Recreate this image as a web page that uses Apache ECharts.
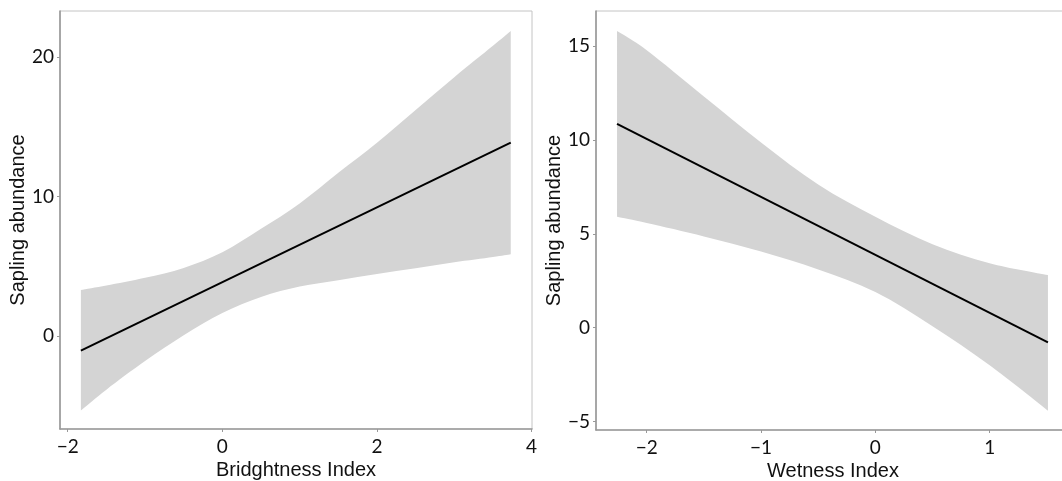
<!DOCTYPE html>
<html>
<head>
<meta charset="utf-8">
<script src="https://cdn.jsdelivr.net/npm/echarts@6/dist/echarts.min.js"></script>
<style>
html,body{margin:0;padding:0;background:#fff;}
#chart{width:1062px;height:481px;}
</style>
</head>
<body>
<div id="chart"></div>
<script>
// ---- Left panel: Brightness ----
const brightX     = [-1.83, -1.5, -1.0, -0.5, 0, 0.5, 1.0, 1.5, 2.0, 2.5, 3.0, 3.5, 3.73];
const brightUpper = [3.30, 3.62, 4.17, 4.88, 6.0, 7.68, 9.5, 11.7, 13.86, 16.2, 18.55, 20.8, 21.86];
const brightLower = [-5.35, -3.85, -1.8, 0.05, 1.65, 2.8, 3.55, 4.0, 4.45, 4.85, 5.28, 5.66, 5.86];
const brightFitX  = [-1.83, 3.73];
const brightFitY  = [-1.05, 13.86];
const brightXTicks = [-2, 0, 2, 4];
const brightYTicks = [0, 10, 20];

// ---- Right panel: Wetness ----
const wetX     = [-2.26, -2.0, -1.5, -1.0, -0.5, 0, 0.5, 1.0, 1.51];
const wetUpper = [15.78, 14.76, 12.3, 9.86, 7.62, 5.9, 4.44, 3.43, 2.80];
const wetLower = [5.90, 5.57, 4.86, 4.05, 3.1, 1.9, 0.08, -2.0, -4.41];
const wetFitX  = [-2.26, 1.51];
const wetFitY  = [10.84, -0.78];
const wetXTicks = [-2, -1, 0, 1];
const wetYTicks = [-5, 0, 5, 10, 15];

const xTitleLeft = 'Bridghtness Index';
const xTitleRight = 'Wetness Index';
const yTitle = 'Sapling abundance';

const fmt = v => (v < 0 ? '\u2212' + Math.abs(v) : String(v));

// smooth closed band path through pixel points (Catmull-Rom -> cubic Bezier)
function curveSeg(p) {
  let d = '';
  for (let i = 0; i < p.length - 1; i++) {
    const p0 = p[Math.max(i - 1, 0)], p1 = p[i], p2 = p[i + 1], p3 = p[Math.min(i + 2, p.length - 1)];
    const c1 = [p1[0] + (p2[0] - p0[0]) / 6, p1[1] + (p2[1] - p0[1]) / 6];
    const c2 = [p2[0] - (p3[0] - p1[0]) / 6, p2[1] - (p3[1] - p1[1]) / 6];
    d += ' C' + c1[0] + ',' + c1[1] + ' ' + c2[0] + ',' + c2[1] + ' ' + p2[0] + ',' + p2[1];
  }
  return d;
}
function bandRender(xs, up, lo) {
  return function (params, api) {
    if (params.dataIndex !== 0) return;
    const u = xs.map((x, i) => api.coord([x, up[i]]));
    const l = xs.map((x, i) => api.coord([x, lo[i]])).reverse();
    let d = 'M' + u[0][0] + ',' + u[0][1] + curveSeg(u);
    d += ' L' + l[0][0] + ',' + l[0][1] + curveSeg(l) + ' Z';
    return { type: 'path', shape: { pathData: d }, style: { fill: '#d4d4d4', stroke: null } };
  };
}

const axisLineStyle = { show: true, onZero: false, lineStyle: { color: '#999', width: 1.6 } };
const tickFont = { color: '#111', fontSize: 19, fontFamily: 'Lato' };
const nameFont = { color: '#111', fontSize: 20, fontFamily: 'Liberation Sans' };

function xAxis(idx, min, max, ticks, name) {
  return {
    type: 'value', gridIndex: idx, min: min, max: max,
    name: name, nameLocation: 'middle', nameGap: 30, nameTextStyle: nameFont,
    axisLine: axisLineStyle,
    axisTick: { show: true, length: 3, lineStyle: { color: '#999' }, customValues: ticks },
    axisLabel: Object.assign({ margin: 8, formatter: fmt, customValues: ticks }, tickFont),
    splitLine: { show: false }
  };
}
function yAxis(idx, min, max, ticks, name) {
  return {
    type: 'value', gridIndex: idx, min: min, max: max,
    name: name, nameLocation: 'middle', nameGap: 30, nameTextStyle: nameFont,
    axisLine: axisLineStyle,
    axisTick: { show: true, length: 3, lineStyle: { color: '#999' }, customValues: ticks },
    axisLabel: Object.assign({ margin: 6, formatter: fmt, customValues: ticks }, tickFont),
    splitLine: { show: false }
  };
}

const chart = echarts.init(document.getElementById('chart'), null, { renderer: 'canvas' });
chart.setOption({
  animation: false,
  backgroundColor: '#fff',
  grid: [
    { left: 60, top: 11, width: 472, height: 418, show: true, borderColor: '#c4c4c4', borderWidth: 1, backgroundColor: '#fff', containLabel: false, outerBoundsMode: 'none' },
    { left: 596, top: 11, width: 474, height: 419, show: true, borderColor: '#c4c4c4', borderWidth: 1, backgroundColor: '#fff', containLabel: false, outerBoundsMode: 'none' }
  ],
  xAxis: [
    xAxis(0, -2.10, 4.005, brightXTicks, xTitleLeft),
    xAxis(1, -2.444, 1.703, wetXTicks, xTitleRight)
  ],
  yAxis: [
    yAxis(0, -6.67, 23.30, brightYTicks, yTitle),
    yAxis(1, -5.44, 16.85, wetYTicks, yTitle)
  ],
  series: [
    {
      type: 'custom', xAxisIndex: 0, yAxisIndex: 0,
      renderItem: bandRender(brightX, brightUpper, brightLower),
      data: brightX.map((x, i) => [x, brightUpper[i], brightLower[i]]),
      encode: { x: 0, y: [1, 2] }, silent: true
    },
    {
      type: 'line', xAxisIndex: 0, yAxisIndex: 0, showSymbol: false,
      data: brightFitX.map((x, i) => [x, brightFitY[i]]),
      lineStyle: { color: '#000', width: 2 }, silent: true
    },
    {
      type: 'custom', xAxisIndex: 1, yAxisIndex: 1,
      renderItem: bandRender(wetX, wetUpper, wetLower),
      data: wetX.map((x, i) => [x, wetUpper[i], wetLower[i]]),
      encode: { x: 0, y: [1, 2] }, silent: true
    },
    {
      type: 'line', xAxisIndex: 1, yAxisIndex: 1, showSymbol: false,
      data: wetFitX.map((x, i) => [x, wetFitY[i]]),
      lineStyle: { color: '#000', width: 2 }, silent: true
    }
  ]
});
</script>
</body>
</html>
